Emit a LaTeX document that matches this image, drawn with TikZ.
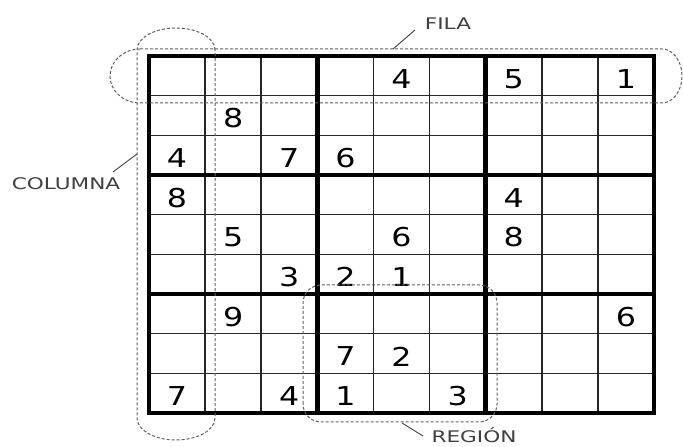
\documentclass[tikz,border=0pt]{standalone}
\usepackage{fontspec}
\setmainfont{DejaVu Sans}
\usetikzlibrary{positioning}
\definecolor{hint}{HTML}{606060}
\definecolor{lbl}{HTML}{404040}
\tikzset{
  cellline/.style={line width=1.6pt,black!85},
  boxline/.style={line width=4.5pt,black},
  zone/.style={hint,line width=1pt,dash pattern=on 3pt off 2pt},
  leader/.style={lbl,line width=0.9pt},
  digit/.style={font=\fontsize{26}{26}\selectfont,xscale=1.22,inner sep=0pt,yshift=-3pt},
  tag/.style={font=\fontsize{16}{16}\selectfont,text=lbl,xscale=1.35,inner sep=0pt}
}

\begin{document}
\begin{tikzpicture}[x=1pt,y=1pt]
  \useasboundingbox (0,0) rectangle (683,447);
  % sudoku grid
  \begin{scope}[shift={(149,34)},x=56.11pt,y=39.67pt]
    \foreach \i in {1,2,4,5,7,8} {
      \draw[cellline] (\i,0) -- (\i,9);
      \draw[cellline] (0,\i) -- (9,\i);
    }
    \foreach \i in {3,6} {
      \draw[boxline] (\i,0) -- (\i,9);
      \draw[boxline] (0,\i) -- (9,\i);
    }
    \draw[boxline] (0,0) rectangle (9,9);
    \foreach \r/\c/\v in {1/5/4, 1/7/5, 1/9/1, 2/2/8, 3/1/4, 3/3/7, 3/4/6,
                          4/1/8, 4/7/4, 5/2/5, 5/5/6, 5/7/8, 6/3/3, 6/4/2, 6/5/1,
                          7/2/9, 7/9/6, 8/4/7, 8/5/2, 9/1/7, 9/3/4, 9/4/1, 9/6/3}
      \node[digit] (d\r\c) at (\c-0.5,9.5-\r) {\v};
  \end{scope}
  % dashed zones
  \draw[zone] (140,398) -- (662,398) arc[start angle=90,end angle=-90,x radius=20,y radius=27]
    -- (140,344) arc[start angle=270,end angle=90,x radius=30,y radius=27] -- cycle;
  \draw[zone] (215,397) arc[start angle=0,end angle=180,x radius=39,y radius=22]
    -- (137,29) arc[start angle=180,end angle=360,x radius=39,y radius=22] -- cycle;
  \draw[zone,rounded corners=18pt] (303,25) rectangle (497,162);
  % labels
  \node[tag] (fila) at (448,423) {FILA};
  \node[tag] (columna) at (66,263) {COLUMNA};
  \node[tag,anchor=base] (region) at (474,4) {REGIÓN};
  \coordinate (filaTip) at (393,398);
  \coordinate (filaEnd) at (415,417);
  \coordinate (columnaTip) at (137,293);
  \coordinate (columnaEnd) at (113,275);
  \coordinate (regionTip) at (402,24);
  \coordinate (regionEnd) at (423,11);
  \draw[leader] (filaEnd) -- (filaTip);
  \draw[leader] (columnaEnd) -- (columnaTip);
  \draw[leader] (regionEnd) -- (regionTip);
\end{tikzpicture}
\end{document}
